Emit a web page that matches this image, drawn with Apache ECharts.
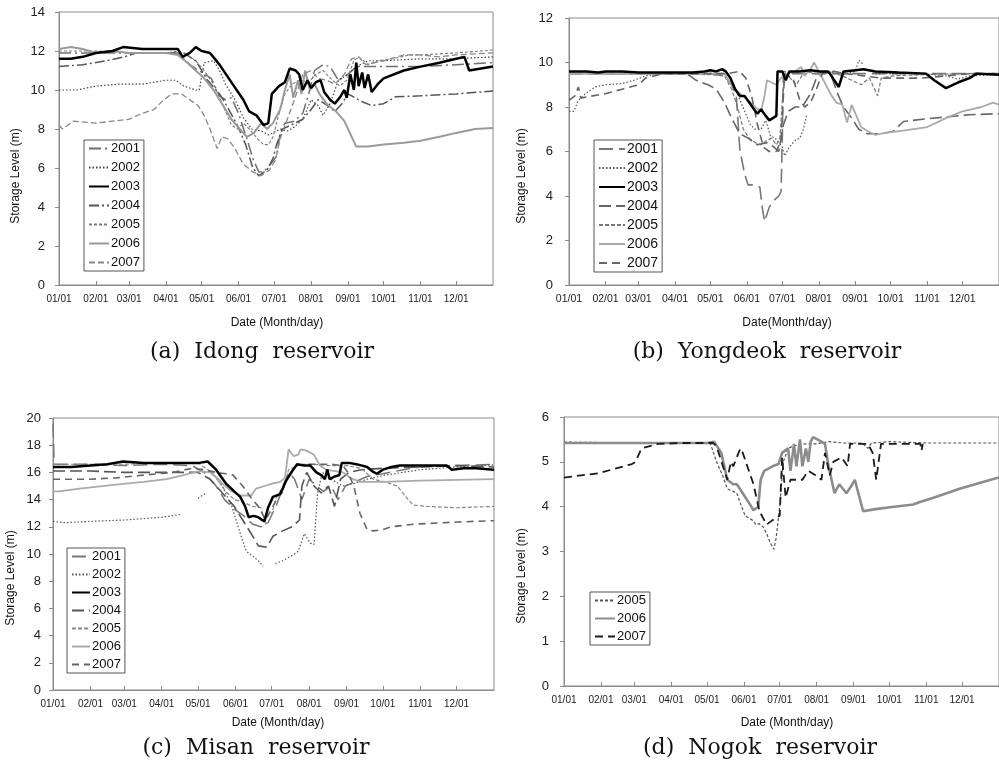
<!DOCTYPE html>
<html>
<head>
<meta charset="utf-8">
<script src="https://cdn.jsdelivr.net/npm/echarts@6/dist/echarts.min.js"></script>
<style>html,body{margin:0;padding:0;background:#fff;}#c{width:999px;height:771px;}</style>
</head>
<body>
<div id="c"></div>
<script>
// ---------- axis ticks ----------
const monthStarts = [0,31,59,90,120,151,181,212,243,273,304,334];
const monthLabels = ['01/01','02/01','03/01','04/01','05/01','06/01','07/01','08/01','09/01','10/01','11/01','12/01'];
const yearsAll = ['2001','2002','2003','2004','2005','2006','2007'];
const yearsNogok = ['2005','2006','2007'];

// ---------- (a) Idong reservoir: [day of year, level m] ----------
const idong2001 = [[0,11.9],[31,11.9],[59,11.9],[90,11.9],[100,11.9],[110,11.3],[120,10.9],[128,10.6],[135,9.7],[140,9.5],[145,9.6],[151,8.8],[158,7.5],[163,6.5],[168,5.8],[172,5.8],[178,6.2],[183,6.6],[186,7.8],[190,8.3],[198,8.4],[205,8.8],[210,9.8],[215,11.0],[222,11.3],[228,11.2],[235,10.5],[243,10.8],[250,11.2],[260,11.2],[273,11.2],[304,11.2],[334,11.3],[365,11.4]];
const idong2002 = [[0,10.0],[15,10.0],[31,10.2],[50,10.3],[70,10.3],[90,10.5],[98,10.5],[105,10.2],[115,10.0],[118,10.0],[122,11.4],[130,11.5],[135,11.0],[140,10.3],[148,9.5],[155,8.6],[162,8.0],[170,7.9],[176,7.7],[180,7.8],[186,8.0],[192,7.9],[198,8.1],[205,8.5],[212,9.5],[218,9.2],[222,8.7],[228,9.3],[235,10.5],[243,10.8],[250,11.2],[260,11.5],[273,11.5],[304,11.6],[334,11.6],[365,11.7]];
const idong2003 = [[0,11.6],[10,11.6],[20,11.7],[31,11.9],[45,12.0],[54,12.2],[70,12.1],[90,12.1],[100,12.1],[104,11.7],[110,11.9],[115,12.2],[120,12.0],[127,11.9],[135,11.3],[146,10.3],[155,9.5],[160,8.9],[166,8.7],[172,8.2],[176,8.3],[179,9.8],[185,10.2],[190,10.4],[194,11.1],[199,11.0],[202,10.8],[205,10.0],[209,10.5],[212,10.1],[216,10.4],[220,10.5],[223,9.9],[228,9.5],[232,9.3],[236,9.6],[240,10.0],[242,9.6],[245,10.8],[248,10.0],[250,11.4],[252,10.2],[255,10.9],[257,10.1],[260,10.8],[263,9.9],[268,10.3],[273,10.6],[290,11.0],[304,11.2],[320,11.4],[334,11.6],[341,11.7],[345,11.0],[355,11.1],[365,11.2]];
const idong2004 = [[0,11.2],[20,11.3],[40,11.5],[55,11.7],[65,11.9],[90,11.9],[105,11.9],[115,11.5],[125,10.5],[135,9.8],[140,9.3],[150,8.2],[157,7.2],[163,6.0],[168,5.6],[175,5.9],[180,6.5],[183,7.2],[188,8.0],[195,8.2],[205,8.5],[212,9.0],[218,9.5],[226,9.2],[232,8.9],[238,9.3],[243,9.8],[255,9.4],[263,9.2],[273,9.3],[283,9.65],[304,9.7],[334,9.8],[365,9.95]];
const idong2005 = [[0,12.0],[20,12.0],[31,12.0],[59,11.9],[90,11.9],[100,12.0],[108,11.8],[115,11.5],[122,11.0],[130,10.3],[138,9.2],[145,8.2],[150,8.0],[155,8.3],[160,8.0],[167,7.5],[172,7.2],[176,7.2],[180,7.6],[186,9.0],[190,9.8],[196,10.3],[203,10.5],[210,10.4],[216,10.8],[222,11.0],[230,10.5],[236,10.2],[242,10.5],[248,11.5],[252,11.7],[260,11.3],[268,11.5],[280,11.6],[295,11.8],[304,11.8],[334,11.9],[365,12.05]];
const idong2006 = [[0,12.1],[10,12.2],[20,12.1],[31,11.9],[45,12.0],[59,11.9],[90,11.9],[100,11.8],[108,11.4],[115,11.0],[122,10.6],[130,10.0],[138,9.2],[145,8.5],[152,8.0],[158,7.6],[164,7.8],[170,8.3],[175,8.0],[180,8.3],[186,9.0],[190,10.0],[194,10.8],[197,9.6],[201,10.5],[204,9.8],[207,11.0],[211,10.0],[215,10.3],[219,9.8],[225,9.3],[233,8.9],[240,8.4],[250,7.1],[260,7.1],[273,7.2],[290,7.3],[304,7.4],[320,7.6],[334,7.8],[350,8.0],[365,8.05]];
const idong2007 = [[0,8.2],[3,8.0],[12,8.4],[31,8.3],[45,8.4],[59,8.5],[70,8.8],[80,9.0],[88,9.5],[95,9.8],[103,9.8],[110,9.5],[117,9.2],[122,8.7],[127,8.0],[133,7.0],[137,7.6],[142,7.5],[148,7.0],[155,6.2],[163,5.8],[170,5.6],[177,5.9],[182,6.4],[186,7.5],[192,8.5],[198,9.5],[205,10.8],[212,11.0],[218,10.6],[225,10.5],[232,10.3],[240,10.8],[246,11.6],[252,11.7],[258,11.3],[273,11.5],[290,11.8],[304,11.8],[320,11.7],[334,11.8],[365,11.9]];

// ---------- (b) Yongdeok reservoir ----------
const yong2001 = [[0,9.5],[31,9.5],[59,9.5],[90,9.5],[120,9.5],[132,9.4],[138,9.0],[142,8.5],[145,6.1],[149,5.0],[152,4.5],[157,4.5],[162,4.4],[164,3.5],[166,2.85],[170,3.5],[174,3.8],[178,4.0],[180,4.2],[181,6.5],[182,9.6],[190,9.5],[220,9.5],[260,9.5],[300,9.5],[365,9.5]];
const yong2002 = [[0,7.8],[4,7.8],[8,8.3],[14,8.6],[22,8.9],[31,9.0],[45,9.05],[55,9.2],[65,9.4],[80,9.5],[90,9.5],[120,9.5],[135,9.5],[140,9.0],[146,8.2],[150,7.7],[154,7.2],[158,7.0],[163,7.0],[167,7.4],[171,6.7],[175,6.6],[178,6.4],[181,6.2],[183,5.8],[187,6.2],[192,6.5],[196,6.6],[199,7.0],[202,7.7],[203,'-'],[215,9.5],[225,9.6],[235,9.5],[243,9.6],[246,10.1],[250,9.9],[252,'-'],[260,9.5],[300,9.5],[320,9.4],[330,9.25],[340,9.4],[365,9.45]];
const yong2003 = [[0,9.6],[15,9.6],[25,9.55],[31,9.6],[45,9.6],[59,9.55],[75,9.55],[90,9.55],[105,9.55],[115,9.6],[120,9.65],[125,9.6],[130,9.7],[133,9.6],[137,9.3],[141,8.8],[145,8.5],[149,8.5],[153,8.2],[157,7.9],[160,7.7],[163,7.9],[167,7.6],[170,7.4],[173,7.5],[176,7.6],[177,9.6],[181,9.6],[184,9.2],[187,9.6],[195,9.6],[205,9.65],[213,9.6],[220,9.6],[224,9.3],[229,8.9],[233,9.6],[243,9.65],[250,9.7],[260,9.6],[280,9.55],[303,9.5],[310,9.2],[320,8.85],[330,9.1],[340,9.3],[346,9.5],[365,9.45]];
const yong2004 = [[0,9.5],[60,9.5],[100,9.5],[108,9.2],[118,9.0],[125,8.8],[132,8.2],[138,7.5],[145,6.8],[152,6.6],[160,6.3],[168,6.4],[174,6.2],[178,6.0],[182,7.2],[186,7.8],[192,8.0],[198,8.0],[205,8.6],[210,9.3],[215,9.6],[222,9.5],[228,8.6],[233,8.0],[240,7.5],[246,7.0],[253,6.8],[265,6.8],[275,6.9],[284,7.35],[300,7.45],[320,7.55],[340,7.65],[365,7.7]];
const yong2005 = [[0,9.5],[31,9.5],[90,9.5],[120,9.45],[132,9.4],[138,8.8],[143,8.0],[148,7.0],[153,6.6],[158,6.4],[163,6.3],[168,6.5],[172,6.6],[176,6.3],[179,6.6],[182,9.0],[186,9.4],[193,9.0],[200,9.6],[210,9.5],[220,9.6],[232,9.4],[240,9.2],[248,9.0],[255,9.3],[262,8.5],[265,9.3],[275,9.4],[300,9.45],[330,9.5],[365,9.5]];
const yong2006 = [[0,9.5],[31,9.5],[59,9.5],[90,9.5],[120,9.5],[132,9.5],[138,9.0],[145,8.6],[152,8.3],[158,8.0],[163,7.8],[166,8.5],[168,9.2],[172,9.1],[176,9.0],[180,9.3],[186,9.5],[192,9.6],[197,9.8],[200,9.4],[205,9.7],[208,10.0],[212,9.6],[218,9.0],[223,8.5],[227,8.2],[232,8.1],[236,7.3],[240,8.1],[244,7.6],[248,7.1],[254,6.9],[260,6.75],[270,6.85],[285,6.95],[304,7.1],[320,7.5],[334,7.8],[350,8.0],[360,8.2],[365,8.1]];
const yong2007 = [[0,8.3],[5,8.5],[8,8.9],[10,8.4],[20,8.5],[31,8.6],[45,8.8],[59,9.0],[65,9.3],[80,9.5],[90,9.5],[120,9.5],[135,9.5],[145,9.6],[150,9.3],[155,8.5],[160,7.2],[165,6.2],[170,6.0],[176,6.0],[180,6.5],[183,9.5],[190,9.3],[196,8.3],[200,8.0],[205,8.2],[210,8.8],[215,9.5],[225,9.6],[235,9.5],[250,9.4],[265,9.3],[300,9.3],[320,9.4],[340,9.5],[365,9.5]];

// ---------- (c) Misan reservoir ----------
const misan2001 = [[0,19.6],[1,16.6],[31,16.6],[59,16.5],[90,16.6],[115,16.5],[125,16.0],[135,15.0],[142,14.0],[150,13.3],[158,12.8],[165,12.2],[172,12.0],[178,12.3],[185,13.6],[190,14.8],[195,16.0],[200,15.5],[206,14.0],[212,15.5],[218,15.0],[224,14.6],[230,15.0],[236,14.0],[242,15.0],[250,15.3],[260,15.7],[273,15.9],[290,16.2],[304,16.4],[334,16.5],[365,16.6]];
const misan2002 = [[0,12.4],[10,12.3],[31,12.4],[59,12.5],[90,12.7],[105,12.9],[106,'-'],[120,14.1],[127,14.5],[128,'-'],[132,16.0],[140,15.0],[148,13.5],[155,11.5],[160,10.2],[166,9.8],[170,9.5],[174,9.1],[176,'-'],[184,9.3],[190,9.5],[198,9.9],[203,10.2],[208,11.5],[213,10.8],[216,10.7],[219,14.5],[223,16.0],[230,15.5],[240,15.0],[250,15.2],[260,15.5],[275,15.8],[304,16.2],[334,16.4],[365,16.55]];
const misan2003 = [[0,16.4],[15,16.4],[31,16.5],[45,16.6],[58,16.8],[75,16.7],[90,16.7],[105,16.7],[121,16.7],[128,16.8],[135,16.2],[143,15.2],[150,14.6],[155,14.2],[159,13.5],[162,12.7],[166,12.8],[170,12.7],[173,12.5],[175,12.4],[178,13.4],[182,14.2],[188,14.4],[193,15.4],[198,16.1],[202,16.6],[208,16.5],[213,16.5],[218,16.0],[222,15.8],[225,15.5],[227,16.2],[229,15.5],[233,15.7],[237,15.8],[239,16.7],[245,16.7],[251,16.6],[256,16.5],[260,16.4],[264,16.1],[268,15.9],[273,16.2],[280,16.4],[287,16.5],[304,16.5],[326,16.5],[330,16.2],[340,16.3],[350,16.3],[365,16.2]];
const misan2004 = [[0,16.1],[31,16.1],[59,16.0],[90,16.0],[120,16.0],[130,15.5],[140,14.5],[150,13.5],[157,12.5],[164,11.5],[170,10.6],[177,10.5],[182,11.3],[190,11.7],[198,12.0],[204,12.5],[206,15.0],[210,16.0],[216,15.0],[222,14.5],[228,15.0],[233,13.5],[238,15.5],[245,16.0],[255,16.2],[273,16.3],[304,16.4],[334,16.5],[365,16.4]];
const misan2005 = [[0,16.6],[31,16.6],[59,16.6],[90,16.7],[120,16.7],[128,16.2],[135,15.6],[143,14.6],[150,14.0],[158,13.8],[165,13.5],[172,13.4],[176,12.2],[180,12.6],[185,14.2],[190,14.5],[195,16.2],[205,16.6],[215,16.6],[230,16.5],[243,16.5],[255,16.3],[265,15.5],[275,15.3],[285,15.0],[292,14.2],[298,13.6],[310,13.5],[334,13.4],[365,13.5]];
const misan2006 = [[0,14.6],[5,14.6],[22,14.8],[52,15.1],[75,15.3],[94,15.5],[108,15.8],[121,16.1],[130,16.0],[137,15.5],[141,15.1],[148,14.6],[155,14.3],[164,14.3],[168,14.8],[175,15.0],[182,15.2],[188,15.3],[192,15.6],[195,17.7],[199,17.2],[203,17.3],[205,17.7],[210,17.6],[216,17.3],[221,16.5],[226,16.2],[240,16.0],[246,15.6],[254,15.3],[273,15.3],[304,15.4],[334,15.45],[365,15.5]];
const misan2007 = [[0,15.5],[31,15.5],[52,15.6],[75,15.8],[99,16.0],[115,16.3],[125,16.2],[135,16.0],[143,15.9],[149,15.8],[157,15.0],[165,14.0],[170,13.5],[176,12.5],[179,13.0],[185,14.0],[193,15.5],[201,16.5],[210,16.6],[230,16.6],[240,16.5],[244,16.0],[249,15.0],[254,13.0],[260,11.8],[265,11.7],[273,11.8],[280,12.0],[300,12.2],[334,12.35],[365,12.45]];

// ---------- (d) Nogok reservoir ----------
const nogok2005 = [[0,5.44],[31,5.43],[59,5.43],[90,5.43],[115,5.42],[123,5.4],[128,5.0],[133,4.7],[137,4.4],[141,4.35],[145,4.3],[149,4.0],[152,3.8],[155,3.75],[158,3.7],[161,3.6],[164,3.62],[167,3.55],[170,3.4],[173,3.2],[176,3.05],[178,3.3],[181,4.0],[184,5.0],[188,5.3],[192,5.35],[200,5.4],[211,5.4],[222,5.45],[235,5.42],[250,5.42],[255,5.3],[258,5.42],[273,5.45],[304,5.42],[334,5.42],[365,5.42]];
const nogok2006 = [[0,5.42],[31,5.42],[59,5.42],[90,5.42],[120,5.42],[126,5.45],[132,5.2],[137,4.6],[142,4.5],[145,4.5],[150,4.3],[156,4.05],[159,3.92],[163,4.0],[165,4.6],[168,4.8],[175,4.9],[180,4.95],[183,5.2],[188,5.3],[190,4.8],[193,5.4],[195,4.9],[198,5.5],[200,4.9],[203,5.3],[205,5.0],[207,5.45],[209,5.55],[216,5.45],[219,5.4],[222,4.9],[227,4.3],[231,4.5],[237,4.3],[242,4.5],[244,4.6],[251,3.9],[263,3.95],[277,4.0],[293,4.05],[298,4.1],[310,4.2],[321,4.3],[332,4.4],[345,4.5],[358,4.6],[365,4.65]];
const nogok2007 = [[0,4.65],[30,4.75],[43,4.85],[57,4.95],[60,5.0],[65,5.3],[79,5.4],[100,5.42],[125,5.42],[128,5.35],[137,4.6],[140,5.0],[142,4.9],[148,5.3],[150,5.2],[159,4.5],[164,3.9],[170,3.6],[175,3.7],[181,3.8],[183,5.1],[186,4.2],[190,4.6],[200,4.6],[205,4.8],[211,4.7],[216,4.6],[219,5.2],[223,4.7],[226,5.0],[233,5.1],[238,4.9],[240,5.4],[255,5.4],[259,5.2],[262,4.6],[264,5.0],[266,5.4],[280,5.4],[299,5.4],[300,5.25],[301,5.4]];

// ---------- build chart ----------
const FONT = 'Liberation Sans, Arial, sans-serif';
const panels = [
  {key:'a', grid:{left:59, top:12, width:434, height:273}, ymax:14, yint:2, labelMargin:14, xFont:10,
   legend:{left:84, top:140, iw:20, font:13, gap:6},
   years:yearsAll, data:[idong2001,idong2002,idong2003,idong2004,idong2005,idong2006,idong2007],
   styles:[
     {c:'#6f6f6f', w:1.5, t:[12,4,2,4]}, {c:'#444', w:1.2, t:[1.5,2]}, {c:'#000', w:2.5, t:'solid'},
     {c:'#555', w:1.5, t:[10,3,2,3]}, {c:'#7a7a7a', w:1.1, t:[3,2]}, {c:'#9a9a9a', w:2, t:'solid'}, {c:'#888', w:1.3, t:[6,3]}]},
  {key:'b', grid:{left:569, top:18, width:434, height:267}, ymax:12, yint:2, labelMargin:16, xFont:10.5,
   legend:{left:594, top:140, iw:26, font:14, gap:5},
   years:yearsAll, data:[yong2001,yong2002,yong2003,yong2004,yong2005,yong2006,yong2007],
   styles:[
     {c:'#777', w:1.6, t:[14,6]}, {c:'#555', w:1.2, t:[1.5,2]}, {c:'#000', w:2.5, t:'solid'},
     {c:'#666', w:1.6, t:[12,5]}, {c:'#777', w:1.2, t:[4,2]}, {c:'#aaa', w:1.8, t:'solid'}, {c:'#666', w:1.6, t:[8,5]}]},
  {key:'c', grid:{left:53, top:418, width:441, height:272}, ymax:20, yint:2, labelMargin:12, xFont:10,
   legend:{left:67, top:548, iw:18, font:13, gap:5},
   years:yearsAll, data:[misan2001,misan2002,misan2003,misan2004,misan2005,misan2006,misan2007],
   styles:[
     {c:'#777', w:1.5, t:[14,6]}, {c:'#555', w:1.2, t:[1.5,2]}, {c:'#000', w:2.5, t:'solid'},
     {c:'#555', w:1.6, t:[12,5]}, {c:'#888', w:1.2, t:[4,2]}, {c:'#aaa', w:1.8, t:'solid'}, {c:'#666', w:1.6, t:[7,5]}]},
  {key:'d', grid:{left:564, top:417, width:443, height:269}, ymax:6, yint:1, labelMargin:15, xFont:10,
   legend:{left:590, top:592, iw:20, font:13, gap:5},
   years:yearsNogok, data:[nogok2005,nogok2006,nogok2007],
   styles:[
     {c:'#555', w:1.2, t:[3,2]}, {c:'#8c8c8c', w:2.6, t:'solid'}, {c:'#1a1a1a', w:1.8, t:[8,5]}]}
];

const grids = [], xAxes = [], yAxes = [], series = [], legends = [];
panels.forEach((p, i) => {
  grids.push(Object.assign({show:true, borderColor:'#8a8a8a', borderWidth:1, backgroundColor:'transparent'}, p.grid));
  xAxes.push({
    type:'value', gridIndex:i, min:0, max:365,
    axisLine:{show:true, lineStyle:{color:'#8a8a8a', width:1}},
    axisTick:{show:true, inside:true, length:4, customValues:monthStarts, lineStyle:{color:'#8a8a8a'}},
    axisLabel:{show:true, customValues:monthStarts, margin:9, color:'#222', fontFamily:FONT, fontSize:p.xFont,
      formatter:(v)=>{const k = monthStarts.indexOf(Math.round(v)); return k>=0 ? monthLabels[k] : '';}},
    splitLine:{show:false}
  });
  yAxes.push({
    type:'value', gridIndex:i, min:0, max:p.ymax, interval:p.yint,
    axisLine:{show:true, lineStyle:{color:'#8a8a8a', width:1}},
    axisTick:{show:true, inside:false, length:4, lineStyle:{color:'#8a8a8a'}},
    axisLabel:{margin:p.labelMargin, color:'#222', fontFamily:FONT, fontSize:13},
    splitLine:{show:false}
  });
  const names = [];
  p.years.forEach((yr, j) => {
    const nm = p.key + '|' + yr;
    names.push(nm);
    const s = p.styles[j];
    series.push({
      name:nm, type:'line', xAxisIndex:i, yAxisIndex:i, data:p.data[j],
      showSymbol:false, symbol:'none', smooth:false, connectNulls:false, animation:false,
      lineStyle:{color:s.c, width:s.w, type:s.t}, itemStyle:{color:s.c}, z: (yr==='2003') ? 5 : 2
    });
  });
  legends.push({
    data:names, orient:'vertical', left:p.legend.left, top:p.legend.top,
    itemWidth:p.legend.iw, itemHeight:12, itemGap:p.legend.gap,
    padding:[2,4,2,4], borderColor:'#555', borderWidth:1, backgroundColor:'#fff',
    selectedMode:false, inactiveColor:'#000',
    itemStyle:{opacity:0, borderWidth:0},
    textStyle:{fontFamily:FONT, fontSize:p.legend.font, color:'#111', padding:[0,0,0,-3]},
    formatter:(n)=>n.split('|')[1]
  });
});

const axisTitle = (x, y, text, rot) => ({
  type:'text', x:x, y:y, rotation:rot ? Math.PI/2 : 0,
  style:{text:text, fill:'#111', font:'12px ' + FONT, textAlign:'center', textVerticalAlign:'middle'}
});
const caption = (x, y, text) => ({
  type:'text', x:x, y:y,
  style:{text:text, fill:'#111', font:'22px "DejaVu Serif", "Liberation Serif", serif', textAlign:'center', textVerticalAlign:'middle'}
});

const chart = echarts.init(document.getElementById('c'), null, {renderer:'canvas'});
chart.setOption({
  backgroundColor:'#fff',
  animation:false,
  grid:grids, xAxis:xAxes, yAxis:yAxes, series:series, legend:legends,
  graphic:[
    axisTitle(16, 176, 'Storage Level (m)', true),
    axisTitle(522, 176, 'Storage Level (m)', true),
    axisTitle(11, 578, 'Storage Level (m)', true),
    axisTitle(522, 576, 'Storage Level (m)', true),
    axisTitle(277, 323, 'Date (Month/day)', false),
    axisTitle(787, 323, 'Date(Month/day)', false),
    axisTitle(278, 723, 'Date (Month/day)', false),
    axisTitle(787, 723, 'Date (Month/day)', false),
    caption(262, 352, '(a)  Idong  reservoir'),
    caption(767, 352, '(b)  Yongdeok  reservoir'),
    caption(256, 748, '(c)  Misan  reservoir'),
    caption(760, 748, '(d)  Nogok  reservoir')
  ]
});
</script>
</body>
</html>
